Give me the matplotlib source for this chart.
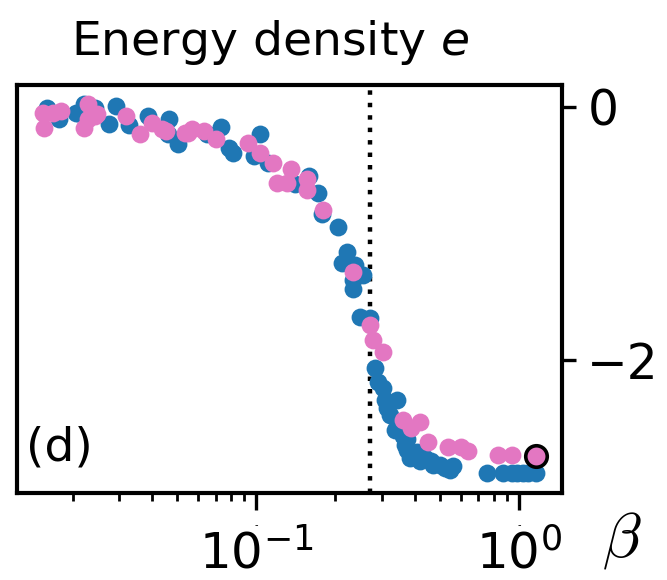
import numpy as np
import matplotlib
matplotlib.use("Agg")
import matplotlib.pyplot as plt

# --- Data ---
beta_blue = [0.0160, 0.0177, 0.0205, 0.0220, 0.0209, 0.0244, 0.0291, 0.0274,
             0.0326, 0.0388, 0.0463, 0.0459, 0.0505, 0.0651, 0.0735, 0.0783,
             0.0818, 0.0975, 0.1036, 0.111, 0.140, 0.158, 0.171, 0.178,
             0.205, 0.222, 0.212, 0.238, 0.255, 0.233, 0.233, 0.248, 0.271,
             0.283, 0.290, 0.303, 0.309, 0.344, 0.315, 0.323, 0.338, 0.360,
             0.369, 0.375, 0.375, 0.385, 0.400, 0.409, 0.420, 0.439, 0.460,
             0.469, 0.501, 0.520, 0.547, 0.561, 0.755, 0.869, 0.940, 0.983,
             1.036, 1.082, 1.164]
e_blue = [-0.008, -0.094, -0.047, 0.024, -0.047, -0.008, 0.008, -0.134,
          -0.142, -0.071, -0.094, -0.213, -0.291, -0.213, -0.158, -0.323,
          -0.362, -0.386, -0.213, -0.441, -0.610, -0.543, -0.677, -0.843,
          -0.953, -1.150, -1.236, -1.252, -1.331, -1.370, -1.440, -1.661, -1.669,
          -2.063, -2.173, -2.220, -2.315, -2.315, -2.378, -2.433, -2.550, -2.600,
          -2.670, -2.620, -2.710, -2.770, -2.750, -2.730, -2.800, -2.770, -2.800,
          -2.830, -2.830, -2.850, -2.870, -2.840, -2.890, -2.890, -2.890, -2.890,
          -2.890, -2.890, -2.890]

beta_pink = [0.01535, 0.0155, 0.0180, 0.0168, 0.0228, 0.0220, 0.0244, 0.0228,
             0.0248, 0.0318, 0.0362, 0.0402, 0.0439, 0.0451, 0.0537, 0.0551,
             0.0571, 0.0629, 0.0699, 0.0925, 0.1036, 0.116, 0.135, 0.120,
             0.131, 0.156, 0.156, 0.180, 0.233, 0.271, 0.279, 0.303, 0.362,
             0.388, 0.420, 0.449, 0.537, 0.600, 0.640, 0.832, 0.940]
e_pink = [-0.047, -0.165, -0.031, -0.047, 0.024, -0.165, -0.071, -0.094,
          -0.055, -0.071, -0.213, -0.126, -0.173, -0.189, -0.205, -0.205,
          -0.173, -0.189, -0.252, -0.283, -0.362, -0.441, -0.488, -0.598,
          -0.598, -0.567, -0.661, -0.819, -1.307, -1.724, -1.843, -1.940, -2.470,
          -2.540, -2.490, -2.650, -2.690, -2.685, -2.720, -2.750, -2.750]

beta_mark = [1.164]
e_mark = [-2.76]

beta_c = 0.271
xticks = [0.1, 1.0]
yticks = [0, -2]
ytick_labels = ["0", "\u22122"]

BLUE = "#1f77b4"
PINK = "#e377c2"

fig = plt.figure(figsize=(6.67, 5.8), dpi=100)
ax = fig.add_axes([0.026, 0.150, 0.817, 0.703])

ax.scatter(beta_blue, e_blue, s=165, color=BLUE, linewidths=0, zorder=2)
ax.scatter(beta_pink, e_pink, s=165, color=PINK, linewidths=0, zorder=3)
ax.scatter(beta_mark, e_mark, s=240, color=PINK, edgecolors="black",
           linewidths=2.6, zorder=4)
ax.axvline(beta_c, color="black", lw=3.2, linestyle=(0, (1, 1.8)), zorder=1)

ax.set_xscale("log")
ax.set_xlim(0.0123, 1.46)
ax.set_ylim(-3.05, 0.17)

for side in ax.spines.values():
    side.set_linewidth(3.0)

ax.yaxis.tick_right()
ax.set_yticks(yticks)
ax.set_yticklabels(ytick_labels)
ax.tick_params(axis="y", which="major", length=10, width=2.4, labelsize=35, pad=8)

ax.set_xticks(xticks)
ax.tick_params(axis="x", which="major", length=12, width=2.4, labelsize=36, pad=14)
ax.tick_params(axis="x", which="minor", length=6, width=2.0)
for xt in xticks:
    ax.annotate("-", (xt, 0), xycoords=("data", "axes fraction"),
                xytext=(0, -23), textcoords="offset points",
                ha="center", va="center", fontsize=7)

ax.text(1.11, -0.115, r"$\beta$", transform=ax.transAxes, fontsize=46,
        ha="center", va="center", math_fontfamily="cm")
ax.text(0.015, 0.11, "(d)", transform=ax.transAxes, fontsize=34,
        ha="left", va="center")
ax.set_title(r"Energy density $e$", fontsize=34, pad=22, x=0.465)

fig.savefig("out.png", dpi=100)
